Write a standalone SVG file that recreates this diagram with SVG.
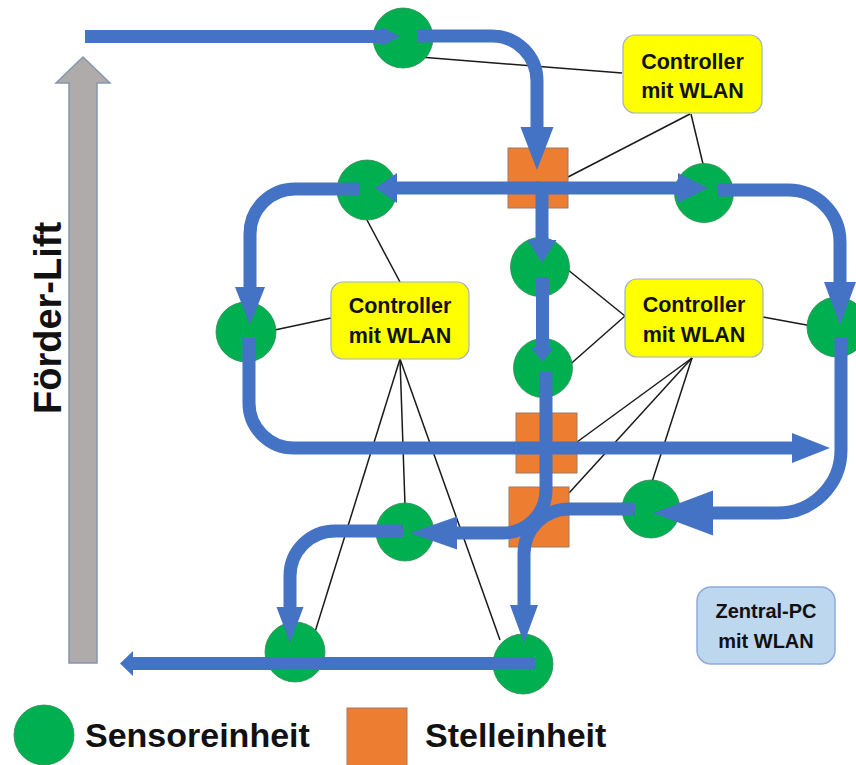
<svg xmlns="http://www.w3.org/2000/svg" width="856" height="765" viewBox="0 0 856 765">
<style>
.sensor{fill:#00B050;stroke:#2E8B57;stroke-width:0.8}
.actor{fill:#ED7D31;stroke:#9E7A64;stroke-width:1}
.ctrl{fill:#FFFF00;stroke:#9FB2C8;stroke-width:1.2}
.pc{fill:#BDD7EE;stroke:#8FAADC;stroke-width:1.5}
.flow{fill:none;stroke:#4472C4;stroke-width:13}
.head{fill:#4472C4}
.wire{stroke:#1A1A1A;stroke-width:1.5;fill:none}
.lbl{font-family:"Liberation Sans",Arial,sans-serif;font-weight:bold;fill:#111;text-anchor:middle}
.leg{font-family:"Liberation Sans",Arial,sans-serif;font-weight:bold;fill:#111;font-size:34px}
</style>
<rect width="856" height="765" fill="#FFFFFF"/>

<g id="lift">
<polygon points="69,663 69,83 56,83 83,57 110,83 97,83 97,663" fill="#AFABAB" stroke="#8497B0" stroke-width="1.5"/>
<text class="lbl" font-size="38" transform="translate(61,318) rotate(-90)">Förder-Lift</text>
</g>

<g id="wires">
<line class="wire" x1="622" y1="73" x2="420" y2="57"/>
<line class="wire" x1="690" y1="114" x2="568" y2="177"/>
<line class="wire" x1="691" y1="114" x2="703" y2="164"/>
<line class="wire" x1="400" y1="282" x2="367" y2="220"/>
<line class="wire" x1="331" y1="318" x2="270" y2="331"/>
<line class="wire" x1="400" y1="359" x2="315" y2="632"/>
<line class="wire" x1="400" y1="359" x2="405" y2="505"/>
<line class="wire" x1="400" y1="359" x2="500" y2="640"/>
<line class="wire" x1="625" y1="316" x2="562" y2="265"/>
<line class="wire" x1="625" y1="316" x2="566" y2="368"/>
<line class="wire" x1="763" y1="317" x2="812" y2="326"/>
<line class="wire" x1="692" y1="358" x2="577" y2="442"/>
<line class="wire" x1="692" y1="358" x2="569" y2="493"/>
<line class="wire" x1="692" y1="358" x2="651" y2="485"/>
</g>

<g id="sensors">
<circle id="s1" class="sensor" cx="403" cy="38" r="30"/>
<circle id="s2" class="sensor" cx="367" cy="190" r="30"/>
<circle id="s3" class="sensor" cx="704" cy="193" r="29.5"/>
<circle id="s4" class="sensor" cx="540" cy="267" r="29.5"/>
<circle id="s5" class="sensor" cx="543" cy="368" r="29.5"/>
<circle id="s6" class="sensor" cx="246" cy="332" r="30"/>
<circle id="s7" class="sensor" cx="837" cy="327" r="30"/>
<circle id="s8" class="sensor" cx="405" cy="532" r="29"/>
<circle id="s9" class="sensor" cx="651" cy="509" r="29"/>
<circle id="s10" class="sensor" cx="295" cy="652" r="30"/>
<circle id="s11" class="sensor" cx="523" cy="664" r="30"/>
</g>

<g id="actors">
<rect id="q1" class="actor" x="508" y="148" width="60" height="60"/>
<rect id="q2" class="actor" x="516" y="413" width="61" height="60"/>
<rect id="q3" class="actor" x="509" y="487" width="60" height="60"/>
</g>

<g id="connectors">
<g><path class="flow" d="M85 36.5 H383"/><polygon class="head" points="382,27 400,36.5 382,46"/></g>
<g><path class="flow" d="M417 36 H492 A45 45 0 0 1 537 81 V128"/><polygon class="head" points="520.5,127 537,170 553.5,127"/></g>
<g><path class="flow" d="M540 188 H396"/><polygon class="head" points="397,173 375,188 397,203"/></g>
<g><path class="flow" d="M536 188 H679"/><polygon class="head" points="678,173 708,188 678,203"/></g>
<g><path class="flow" d="M542 190 V241"/><polygon class="head" points="527.5,240 542,263 556.5,240"/></g>
<g><path class="flow" d="M542.5 277 V349"/><polygon class="head" points="531.5,348 542.5,362 553.5,348"/></g>
<g><path class="flow" d="M360 189 H295 A45 45 0 0 0 250 234 V288"/><polygon class="head" points="235,287 250,325 265,287"/></g>
<g><path class="flow" d="M249 338 V403 A45 45 0 0 0 294 448 H793"/><polygon class="head" points="792,433 830,448 792,463"/></g>
<g><path class="flow" d="M718 190 H788 A52 52 0 0 1 840 242 V283"/><polygon class="head" points="824,282 840,325 856,282"/></g>
<g><path class="flow" d="M841 337 V450 A63 63 0 0 1 778 513 H712"/><polygon class="head" points="713,490.5 653,513 713,535.5"/></g>
<g><path class="flow" d="M546 372 V490 A43 43 0 0 1 503 533 H456"/><polygon class="head" points="457,516.5 410,533 457,549.5"/></g>
<g><path class="flow" d="M403 531 H335 A45 45 0 0 0 290 576 V608"/><polygon class="head" points="276.5,607 290,643 303.5,607"/></g>
<g><path class="flow" d="M635 509 H569 A45 45 0 0 0 524 554 V606"/><polygon class="head" points="510,605 524,643 538,605"/></g>
<g><path class="flow" d="M535 663.5 H132"/><polygon class="head" points="133,651 120,663.5 133,676"/></g>
</g>

<g id="controller1">
<rect class="ctrl" x="623" y="35" width="139" height="78" rx="12"/>
<text class="lbl" font-size="21.5" x="692.5" y="69">Controller</text>
<text class="lbl" font-size="21.5" x="692.5" y="98">mit WLAN</text>
</g>
<g id="controller2">
<rect class="ctrl" x="331" y="282" width="138" height="77" rx="12"/>
<text class="lbl" font-size="21.5" x="400" y="313">Controller</text>
<text class="lbl" font-size="21.5" x="400" y="343">mit WLAN</text>
</g>
<g id="controller3">
<rect class="ctrl" x="625" y="279" width="138" height="78" rx="12"/>
<text class="lbl" font-size="21.5" x="694" y="312">Controller</text>
<text class="lbl" font-size="21.5" x="694" y="342">mit WLAN</text>
</g>
<g id="zentral-pc">
<rect class="pc" x="697" y="587" width="138" height="77" rx="14"/>
<text class="lbl" font-size="20" x="766" y="618">Zentral-PC</text>
<text class="lbl" font-size="20" x="766" y="648">mit WLAN</text>
</g>

<g id="legend">
<circle class="sensor" cx="44" cy="735" r="30"/>
<text class="leg" x="85" y="747">Sensoreinheit</text>
<rect class="actor" x="347" y="708" width="60" height="60"/>
<text class="leg" x="425" y="747">Stelleinheit</text>
</g>
</svg>
